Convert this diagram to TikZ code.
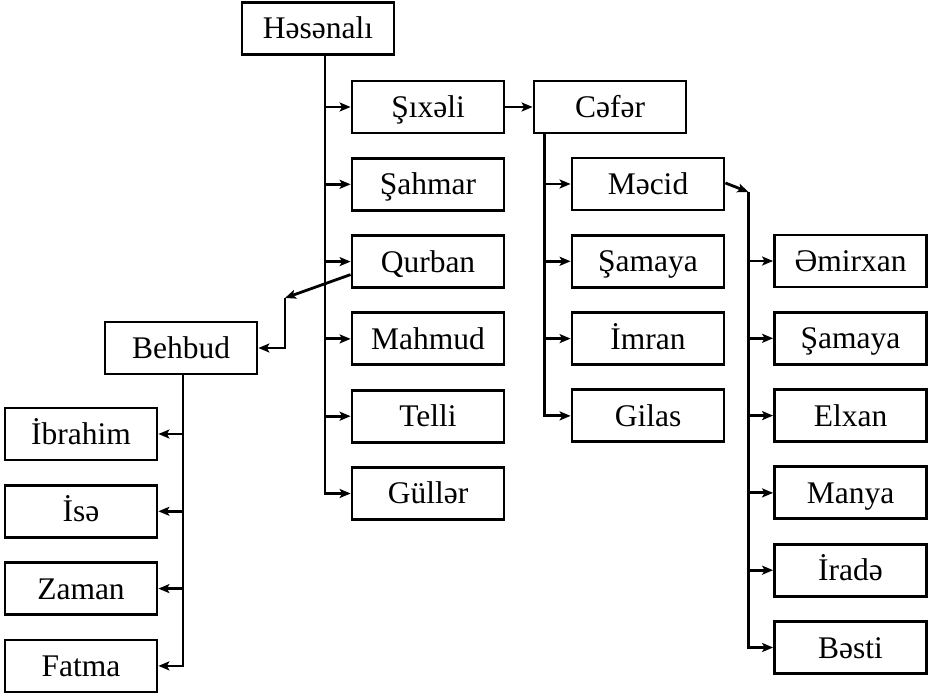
\documentclass[tikz,border=0pt]{standalone}
\usepackage{fontspec}
\setmainfont{Liberation Serif}
\usetikzlibrary{positioning,arrows.meta}

\begin{document}
\begin{tikzpicture}[x=1pt,y=1pt,
   person/.style={draw,line width=2.8pt,minimum width=152pt,minimum height=52pt,
     inner sep=0pt,text height=21pt,text depth=0pt,font=\fontsize{31.5}{37}\selectfont},
   link/.style={line width=2.8pt,-{Stealth[length=11pt,width=9pt,inset=2.5pt]}},
   node distance=22.5pt]
\useasboundingbox (0,0) rectangle (928,696);
\node[person] (hasan) at (318,667.5) {Həsənalı};
\node[person] (sixeli) at (428,589) {Şıxəli};
\node[person,below=of sixeli] (sahmar) {Şahmar};
\node[person,below=of sahmar] (qurban) {Qurban};
\node[person,below=of qurban] (mahmud) {Mahmud};
\node[person,below=of mahmud] (telli) {Telli};
\node[person,below=of telli] (guller) {Güllər};
\node[person] (cafar) at (610,589) {Cəfər};
\node[person] (macid) at (648,512) {Məcid};
\node[person,below=of macid] (samaya) {Şamaya};
\node[person,below=of samaya] (imran) {İmran};
\node[person,below=of imran] (gilas) {Gilas};
\node[person] (amirxan) at (850.5,435) {Əmirxan};
\node[person,below=of amirxan] (samaya2) {Şamaya};
\node[person,below=of samaya2] (elxan) {Elxan};
\node[person,below=of elxan] (manya) {Manya};
\node[person,below=of manya] (irada) {İradə};
\node[person,below=of irada] (basti) {Bəsti};
\node[person] (behbud) at (181,348) {Behbud};
\node[person] (ibrahim) at (81,262) {İbrahim};
\node[person,below=of ibrahim] (isa) {İsə};
\node[person,below=of isa] (zaman) {Zaman};
\node[person,below=of zaman] (fatma) {Fatma};

\coordinate (ht) at ([xshift=7pt]hasan.south);
\draw[link] (ht) |- (guller);
\foreach \n in {sixeli,sahmar,qurban,mahmud,telli}
  \draw[link] (ht |- \n) -- (\n);
\draw[link] (sixeli) -- (cafar);

\coordinate (ct) at ([xshift=12pt]cafar.south west);
\draw[link] (ct) |- (gilas);
\foreach \n in {macid,samaya,imran}
  \draw[link] (ct |- \n) -- (\n);

\coordinate (mt) at ([xshift=23pt,yshift=-8pt]macid.east);
\draw[link] ([yshift=1pt]macid.east) -- (mt);
\draw[link] (mt) |- (basti);
\foreach \n in {amirxan,samaya2,elxan,manya,irada}
  \draw[link] (mt |- \n) -- (\n);

\coordinate (bq) at (285,398);
\draw[link] ([yshift=-13pt]qurban.west) -- (bq);
\draw[link] (bq) |- (behbud);

\coordinate (bt) at ([xshift=2pt]behbud.south);
\draw[link] (bt) |- (fatma);
\foreach \n in {ibrahim,isa,zaman}
  \draw[link] (bt |- \n) -- (\n);
\end{tikzpicture}
\end{document}
